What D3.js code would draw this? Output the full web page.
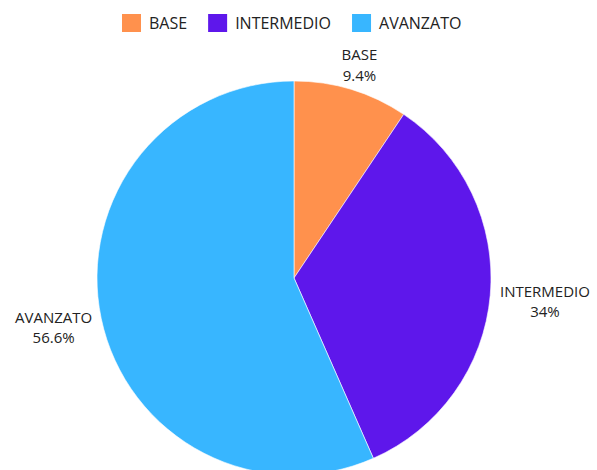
<!DOCTYPE html>
<html><head><meta charset="utf-8">
<script src="https://cdn.jsdelivr.net/npm/d3@7"></script>
<style>html,body{margin:0;padding:0;background:#fff;overflow:hidden}</style>
</head><body><svg id="c" width="597" height="470"></svg>
<script>
const categories = ["BASE", "INTERMEDIO", "AVANZATO"];
const values = [9.4, 34, 56.6];
const valueLabels = ["9.4%", "34%", "56.6%"];
const colors = ["#FF914D", "#5E17EB", "#38B6FF"];

const svg = d3.select("#c");
const font = "'Open Sans', sans-serif";
const cx = 294, cy = 278, r = 197;

const data = categories.map((c, i) => ({cat: c, v: values[i], lab: valueLabels[i], col: colors[i]}));
const pie = d3.pie().sort(null).value(d => d.v);
const arcs = pie(data);
const arc = d3.arc().innerRadius(0).outerRadius(r);
const labelArc = d3.arc().innerRadius(r + 10).outerRadius(r + 10);

const g = svg.append("g").attr("transform", `translate(${cx},${cy})`);
g.selectAll("path").data(arcs).join("path")
  .attr("d", arc).attr("fill", d => d.data.col)
  .attr("stroke", "#fff").attr("stroke-width", 0.6);

const fs = 15, lh = 20.5;
arcs.forEach(a => {
  const [px, py] = labelArc.centroid(a);
  const mid = (a.startAngle + a.endAngle) / 2;
  const lg = g.append("g");
  const t1 = lg.append("text").attr("font-family", font).attr("font-size", fs)
    .attr("fill", "#222").attr("text-anchor", "middle").attr("x", 0).attr("y", 0).text(a.data.cat);
  const t2 = lg.append("text").attr("font-family", font).attr("font-size", fs)
    .attr("fill", "#222").attr("text-anchor", "middle").attr("x", 0).attr("y", lh).text(a.data.lab);
  const w = Math.max(t1.node().getComputedTextLength(), t2.node().getComputedTextLength());
  const h = lh + fs * 0.72;
  const bx = px + Math.sin(mid) * w / 2;
  const by = py - Math.cos(mid) * h / 2 + (Math.abs(Math.sin(mid)) > 0.9 ? 4 : 0);
  const firstBase = by - h / 2 + fs * 0.72;
  lg.attr("transform", `translate(${bx},${firstBase})`);
});

// legend
const legend = svg.append("g");
let x = 122;
categories.forEach((c, i) => {
  legend.append("rect").attr("x", x).attr("y", 14).attr("width", 19).attr("height", 18).attr("fill", colors[i]);
  const t = legend.append("text").attr("x", x + 27).attr("y", 28.5)
    .attr("font-family", font).attr("font-size", 16).attr("fill", "#222").text(c);
  x += 27 + t.node().getComputedTextLength() + 21;
});
</script></body></html>
